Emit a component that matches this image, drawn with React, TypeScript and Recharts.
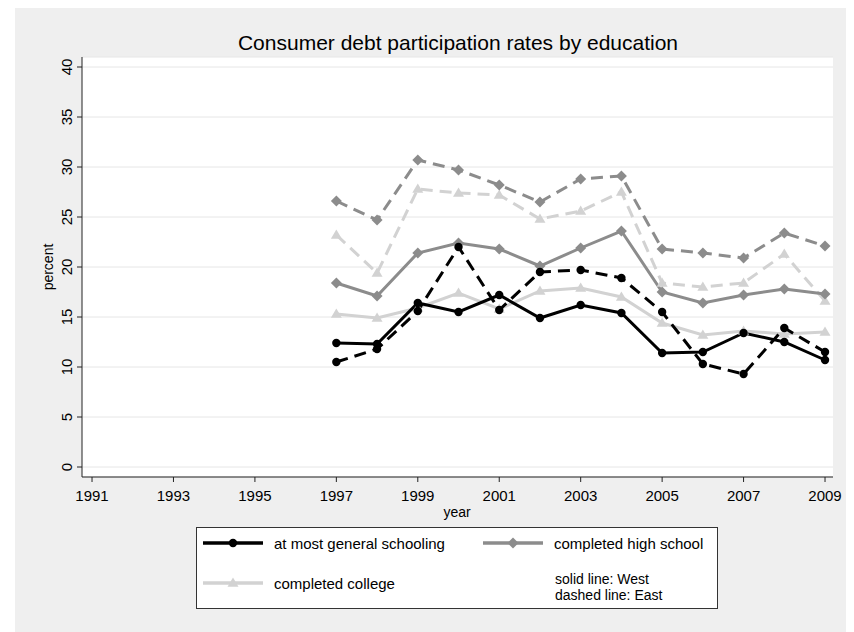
import { LineChart, Line, XAxis, YAxis, CartesianGrid, Legend } from 'recharts';

const years = [1997, 1998, 1999, 2000, 2001, 2002, 2003, 2004, 2005, 2006, 2007, 2008, 2009];

// West (solid) and East (dashed) participation rates, in percent
const generalWest = [12.4, 12.3, 16.4, 15.5, 17.2, 14.9, 16.2, 15.4, 11.4, 11.5, 13.4, 12.5, 10.7];
const generalEast = [10.5, 11.8, 15.6, 22.0, 15.7, 19.5, 19.7, 18.9, 15.5, 10.3, 9.3, 13.9, 11.5];
const highSchoolWest = [18.4, 17.1, 21.4, 22.4, 21.8, 20.1, 21.9, 23.6, 17.5, 16.4, 17.2, 17.8, 17.3];
const highSchoolEast = [26.6, 24.7, 30.7, 29.7, 28.2, 26.5, 28.8, 29.1, 21.8, 21.4, 20.9, 23.4, 22.1];
const collegeWest = [15.3, 14.9, 15.9, 17.4, 15.8, 17.6, 17.9, 17.0, 14.4, 13.2, 13.6, 13.3, 13.5];
const collegeEast = [23.2, 19.4, 27.8, 27.4, 27.2, 24.8, 25.6, 27.5, 18.4, 18.0, 18.4, 21.3, 16.6];

const xTicks = [1991, 1993, 1995, 1997, 1999, 2001, 2003, 2005, 2007, 2009];
const yTicks = [0, 5, 10, 15, 20, 25, 30, 35, 40];

const legendItems = [
  { label: 'at most general schooling', color: '#000000', marker: 'circle' },
  { label: 'completed high school', color: '#8c8c8c', marker: 'diamond' },
  { label: 'completed college', color: '#d2d2d2', marker: 'triangle' },
];

const rows = years.map((year, i) => ({
  year,
  generalWest: generalWest[i],
  generalEast: generalEast[i],
  highSchoolWest: highSchoolWest[i],
  highSchoolEast: highSchoolEast[i],
  collegeWest: collegeWest[i],
  collegeEast: collegeEast[i],
}));

const FONT = '"Liberation Sans", Arial, Helvetica, sans-serif';
const BLACK = '#000000';
const DARK = '#8c8c8c';
const LIGHT = '#d2d2d2';
const DASH = '12 7';

function Marker({ cx, cy, kind, color }: { cx: number; cy: number; kind: string; color: string }) {
  if (cx == null || cy == null) return null;
  if (kind === 'diamond') {
    const r = 5.5;
    return <polygon points={`${cx},${cy - r} ${cx + r},${cy} ${cx},${cy + r} ${cx - r},${cy}`} fill={color} />;
  }
  if (kind === 'triangle') {
    const r = 5.5;
    return <polygon points={`${cx},${cy - r} ${cx + r},${cy + r * 0.7} ${cx - r},${cy + r * 0.7}`} fill={color} />;
  }
  return <circle cx={cx} cy={cy} r={4.2} fill={color} />;
}

const dotFor = (kind: string, color: string) => (props: any) =>
  <Marker key={`${kind}-${props.index}`} cx={props.cx} cy={props.cy} kind={kind} color={color} />;

const YTick = ({ x, y, payload }: any) => (
  <g transform={`translate(${x - 8},${y})`}>
    <text transform="rotate(-90)" textAnchor="middle" dy="0.35em" fontSize={15} fontFamily={FONT} fill="#000">
      {payload.value}
    </text>
  </g>
);

function LegendBox() {
  const sample = (kind: string, color: string) => (
    <svg width={60} height={12} style={{ display: 'block' }}>
      <line x1={0} y1={6} x2={60} y2={6} stroke={color} strokeWidth={3.5} />
      <Marker cx={30} cy={6} kind={kind} color={color} />
    </svg>
  );
  const cell = (item: typeof legendItems[number]) => (
    <div style={{ display: 'flex', alignItems: 'center', height: 20 }}>
      <div style={{ width: 71, paddingLeft: 6 }}>{sample(item.marker, item.color)}</div>
      <span>{item.label}</span>
    </div>
  );
  return (
    <div
      style={{
        width: 522,
        height: 82,
        boxSizing: 'border-box',
        border: '1px solid #333',
        background: '#fff',
        fontFamily: FONT,
        fontSize: 15,
        color: '#000',
        position: 'relative',
      }}
    >
      <div style={{ position: 'absolute', left: 0, top: 5 }}>{cell(legendItems[0])}</div>
      <div style={{ position: 'absolute', left: 280, top: 5 }}>{cell(legendItems[1])}</div>
      <div style={{ position: 'absolute', left: 0, top: 45 }}>{cell(legendItems[2])}</div>
      <div style={{ position: 'absolute', left: 358, top: 43, fontSize: 14, lineHeight: '16px' }}>
        <div>solid line: West</div>
        <div>dashed line: East</div>
      </div>
    </div>
  );
}

export default function App() {
  return (
    <div style={{ position: 'relative', marginLeft: 7, width: 839, height: 624, background: '#efefef' }}>
      <LineChart width={839} height={624} data={rows} margin={{ top: 49, right: 21, bottom: 125, left: 22 }}>
        <CartesianGrid horizontal vertical={false} stroke="#e6e6e6" fill="#ffffff" />
        <XAxis
          dataKey="year"
          type="number"
          domain={[1990.754, 2009.196]}
          ticks={xTicks}
          height={30}
          tickSize={5}
          tickMargin={8}
          stroke="#222"
          tick={{ fontSize: 15, fontFamily: FONT, fill: '#000' }}
          allowDataOverflow
        />
        <YAxis
          type="number"
          domain={[-1, 41]}
          ticks={yTicks}
          width={45}
          tickSize={5}
          stroke="#222"
          tick={<YTick />}
          allowDataOverflow
        />
        <Legend
          layout="horizontal"
          verticalAlign="middle"
          wrapperStyle={{ left: 181, top: 519, width: 522, height: 82 }}
          content={() => <LegendBox />}
        />
        <Line dataKey="collegeWest" stroke={LIGHT} strokeWidth={3} dot={dotFor('triangle', LIGHT)} isAnimationActive={false} />
        <Line dataKey="collegeEast" stroke={LIGHT} strokeWidth={3} strokeDasharray={DASH} dot={dotFor('triangle', LIGHT)} isAnimationActive={false} />
        <Line dataKey="highSchoolWest" stroke={DARK} strokeWidth={3} dot={dotFor('diamond', DARK)} isAnimationActive={false} />
        <Line dataKey="highSchoolEast" stroke={DARK} strokeWidth={3} strokeDasharray={DASH} dot={dotFor('diamond', DARK)} isAnimationActive={false} />
        <Line dataKey="generalWest" stroke={BLACK} strokeWidth={3} dot={dotFor('circle', BLACK)} isAnimationActive={false} />
        <Line dataKey="generalEast" stroke={BLACK} strokeWidth={3} strokeDasharray={DASH} dot={dotFor('circle', BLACK)} isAnimationActive={false} />
        <text x={443} y={42} textAnchor="middle" fontSize={21} fontFamily={FONT} fill="#000">
          Consumer debt participation rates by education
        </text>
        <text x={442} y={509} textAnchor="middle" fontSize={14} fontFamily={FONT} fill="#000">
          year
        </text>
        <text x={33} y={259} transform="rotate(-90 33 259)" textAnchor="middle" dy="0.35em" fontSize={14} fontFamily={FONT} fill="#000">
          percent
        </text>
      </LineChart>
    </div>
  );
}
